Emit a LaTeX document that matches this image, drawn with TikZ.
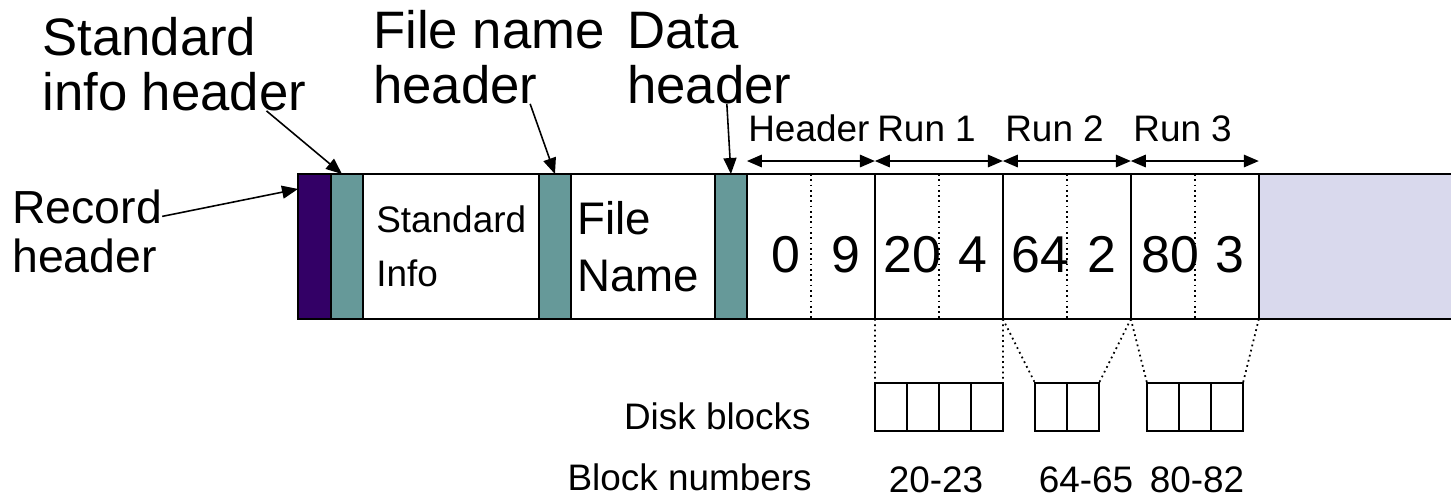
\documentclass[tikz,border=0pt]{standalone}
\usepackage{fontspec}
\setmainfont{Liberation Sans}
\usetikzlibrary{arrows.meta}
\definecolor{recpurple}{HTML}{330066}
\definecolor{hdrteal}{HTML}{669999}
\definecolor{freelav}{HTML}{D9D9ED}
\tikzset{
  cell/.style={draw, line width=1.1pt, minimum height=2.9cm, inner sep=0pt, outer sep=0pt},
  attr/.style={cell, fill=hdrteal, minimum width=0.64cm},
  half/.style={font=\fontsize{29.5}{30}\selectfont, anchor=base, inner sep=0pt},
  lbl/.style={font=\fontsize{30}{31}\selectfont, align=left, anchor=base west, inner sep=0pt},
  small/.style={font=\fontsize{21}{24}\selectfont, inner sep=0pt},
  ptr/.style={-{Triangle[length=0.32cm,width=0.26cm]}, line width=0.9pt},
  span/.style={{Triangle[length=0.3cm,width=0.25cm]}-{Triangle[length=0.3cm,width=0.25cm]}, line width=0.9pt},
  blk/.style={draw, line width=1.1pt, minimum height=0.96cm, inner sep=0pt, outer sep=0pt},
}
\begin{document}
\begin{tikzpicture}[x=0.02cm, y=-0.02cm]
    \useasboundingbox (0,0) rectangle (1451,497);
    \node (free) [cell, draw=none, fill=freelav, minimum width=3.84cm] at (1355,246.5) {};
    \draw[line width=1.1pt] (free.north west) -- (free.north east) (free.south west) -- (free.south east);
    \node (rec) [cell, fill=recpurple, minimum width=0.66cm] at (314.5,246.5) {};
    \node (sih) [attr, node distance=0.65cm, right of=rec] {};
    \node (std) [cell, minimum width=3.52cm, node distance=2.08cm, right of=sih] {};
    \node (fnh) [attr, node distance=2.08cm, right of=std] {};
    \node (fn) [cell, minimum width=2.88cm, node distance=1.76cm, right of=fnh] {};
    \node (dh) [attr, node distance=1.76cm, right of=fn] {};
    \node (hdr) [cell, minimum width=2.56cm, node distance=1.6cm, right of=dh] {};
    \node (run1) [cell, minimum width=2.56cm, node distance=2.56cm, right of=hdr] {};
    \node (run2) [cell, minimum width=2.56cm, node distance=2.56cm, right of=run1] {};
    \node (run3) [cell, minimum width=2.56cm, node distance=2.56cm, right of=run2] {};
    \node (stdt) [font=\fontsize{21}{31}\selectfont, align=left, inner sep=0pt, anchor=west] at ([xshift=0.26cm]std.west) {Standard\\Info};
    \node (fnt) [font=\fontsize{26}{32.3}\selectfont, align=left, inner sep=0pt, anchor=west] at ([xshift=0.12cm]fn.west) {File\\Name};
    \foreach \c in {hdr,run1,run2,run3} {
        \draw[dotted, line width=1pt] (\c.north) -- (\c.south);
        \draw[span] ([yshift=0.26cm]\c.north west) -- ([yshift=0.26cm]\c.north east);
    }
    \node (hdrl) [small, anchor=base west] at (748,141) {Header};
    \node (run1l) [small, anchor=base west] at (877,141) {Run 1};
    \node (run2l) [small, anchor=base west] at (1005,141) {Run 2};
    \node (run3l) [small, anchor=base west] at (1133,141) {Run 3};
    \node (v0) [half] at (786,272) {0};
    \node (v9) [half] at (846,272) {9};
    \node (v20) [half] at (912,272) {20};
    \node (v4) [half] at (973,272) {4};
    \node (v64) [half] at (1040,272) {64};
    \node (v2) [half] at (1102,272) {2};
    \node (v80) [half] at (1170,272) {80};
    \node (v3) [half] at (1230,272) {3};
    \node (rech) [lbl, font=\fontsize{26.4}{27.8}\selectfont] at (12,272) {Record\\header};
    \node (sihl) [lbl] at (42,110) {Standard\\info header};
    \node (fnhl) [lbl] at (373,103) {File name\\header};
    \node (dhl) [lbl] at (627,103) {Data\\header};
    \draw[ptr] (rech.11) -- (rec.106);
    \draw[ptr] ([xshift=-0.8cm]sihl.south east) -- ([xshift=-0.1cm]sih.north);
    \draw[ptr] ([xshift=-1.5cm]fnhl.south east) -- (fnh.north);
    \draw[ptr] ([xshift=-1.3cm]dhl.south east) -- (dh.north);
    \node (blk1) [blk, minimum width=2.56cm] at (939,407) {};
    \node (blk2) [blk, minimum width=1.28cm] at (1067,407) {};
    \node (blk3) [blk, minimum width=1.92cm] at (1195,407) {};
    \foreach \i in {1,2,3}
        \draw[line width=1.1pt] ([xshift=\i*0.64cm]blk1.north west) -- ([xshift=\i*0.64cm]blk1.south west);
    \draw[line width=1.1pt] (blk2.north) -- (blk2.south);
    \foreach \i in {1,2}
        \draw[line width=1.1pt] ([xshift=\i*0.64cm]blk3.north west) -- ([xshift=\i*0.64cm]blk3.south west);
    \draw[dotted, line width=1pt] (run1.south west) -- (blk1.north west);
    \draw[dotted, line width=1pt] (run1.south east) -- (blk1.north east);
    \draw[dotted, line width=1pt] (run2.south west) -- (blk2.north west);
    \draw[dotted, line width=1pt] (run2.south east) -- (blk2.north east);
    \draw[dotted, line width=1pt] (run3.south west) -- (blk3.north west);
    \draw[dotted, line width=1pt] (run3.south east) -- (blk3.north east);
    \node (dbl) [small, anchor=base east] at (811,429) {Disk blocks};
    \node (bnl) [small, anchor=base east] at (812,490) {Block numbers};
    \node (bn1) [small, anchor=base] at (936,492) {20-23};
    \node (bn2) [small, anchor=base] at (1086,492) {64-65};
    \node (bn3) [small, anchor=base] at (1197,492) {80-82};
\end{tikzpicture}
\end{document}
